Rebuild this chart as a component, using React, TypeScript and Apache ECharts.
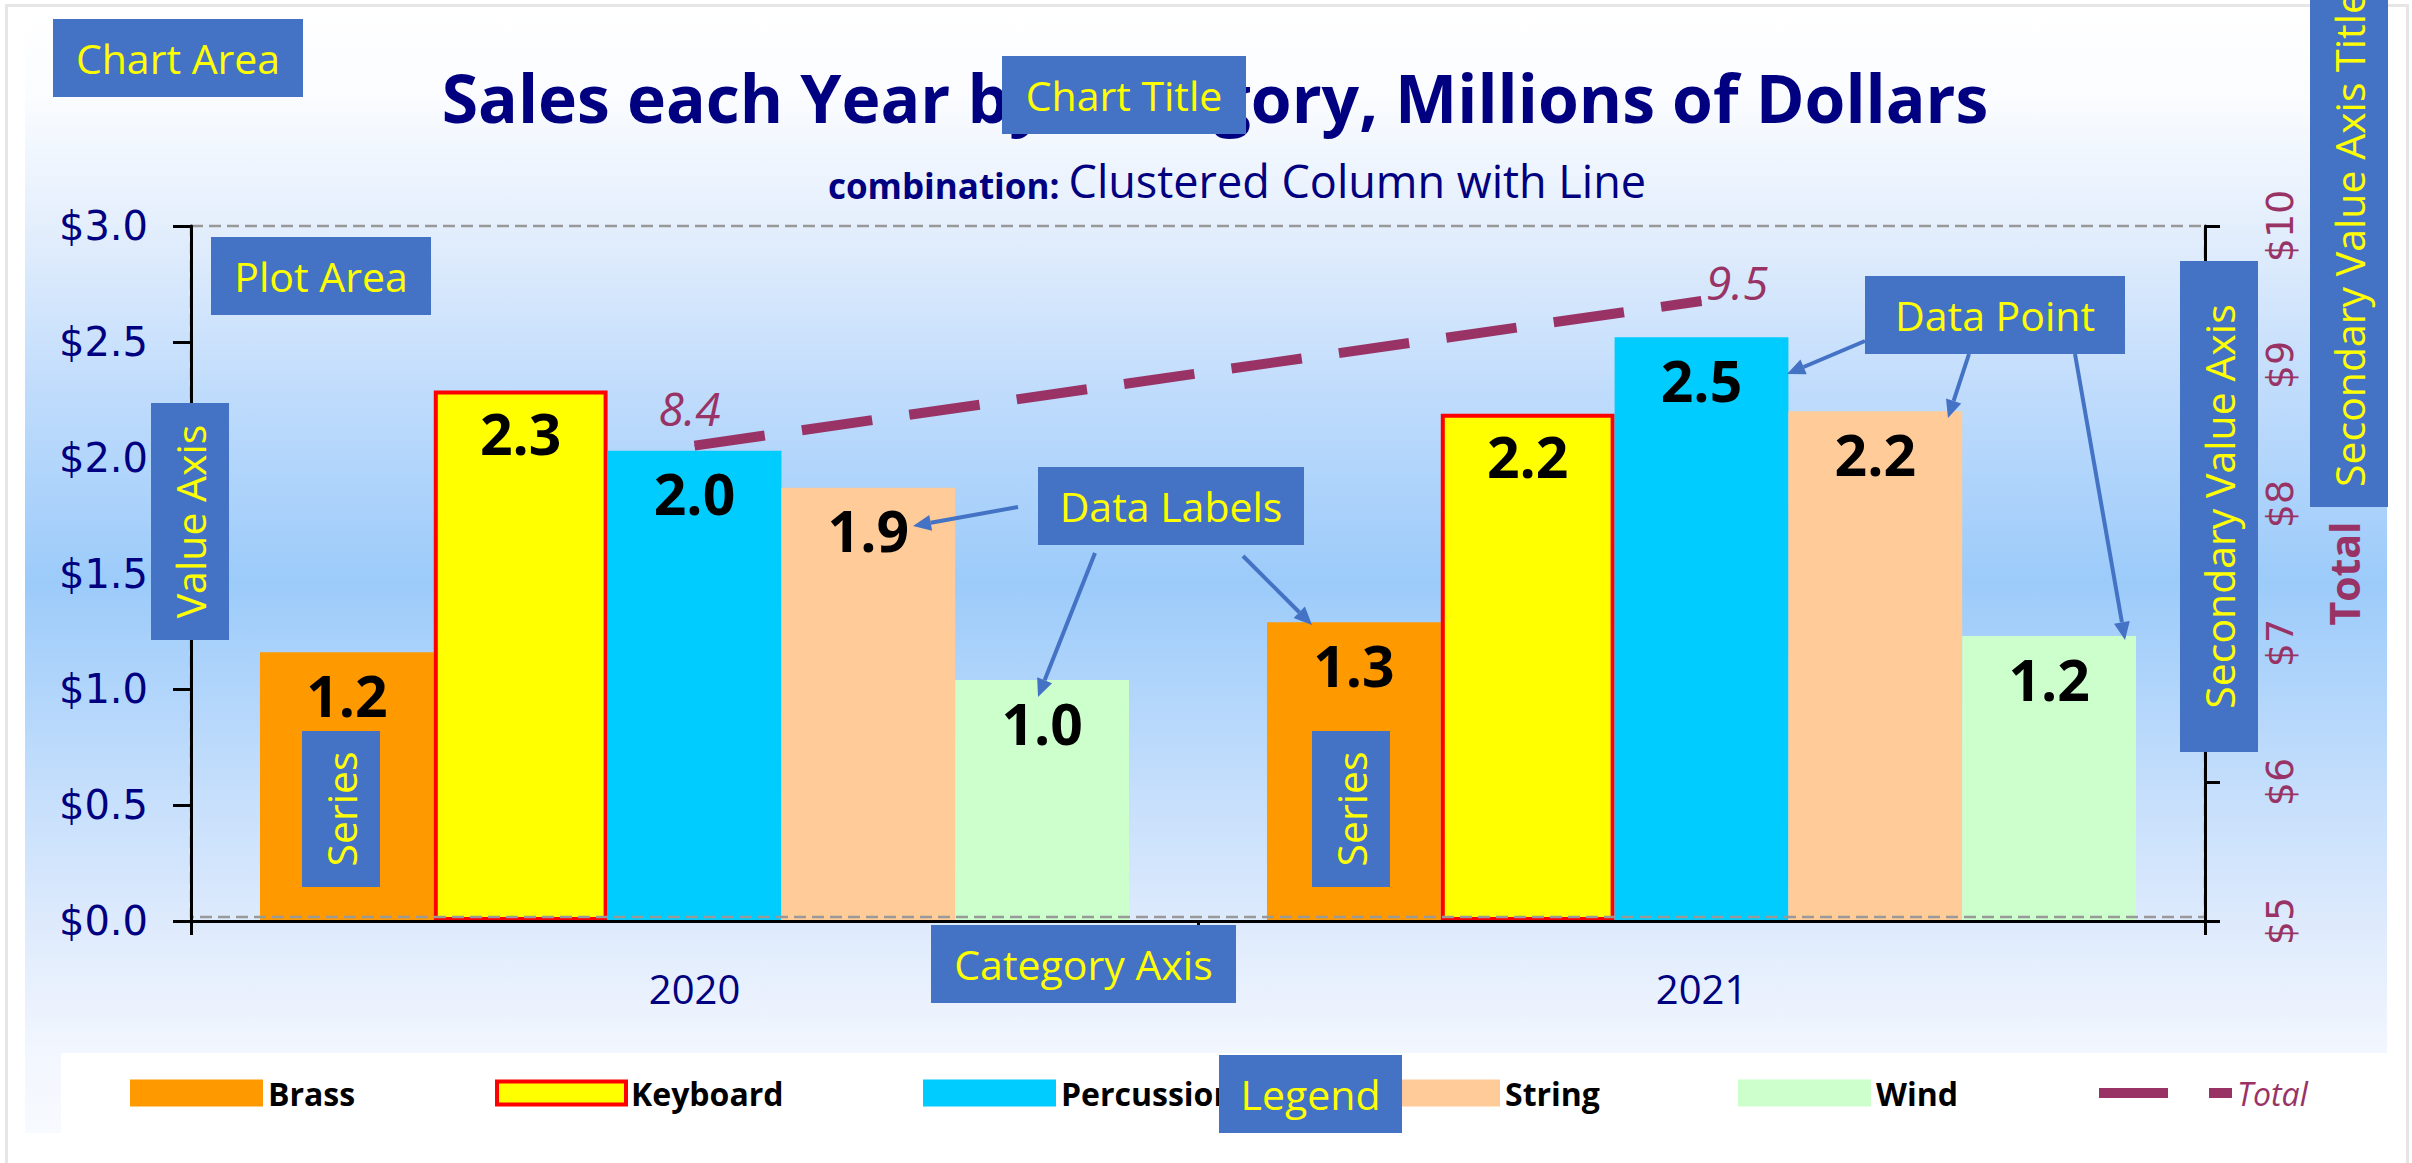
import React, { useEffect, useRef } from 'react';
import * as echarts from 'echarts';

// ---------- data ----------
const categories = ['2020', '2021'];
const seriesNames = ['Brass', 'Keyboard', 'Percussion', 'String', 'Wind'];
const brass = [1.16, 1.29];
const keyboard = [2.29, 2.19];
const percussion = [2.03, 2.52];
const strings = [1.87, 2.2];
const wind = [1.04, 1.23];
const totalName = 'Total';
const totals = [8.42, 9.46];
const leftAxisRange = { min: 0, max: 3, interval: 0.5 };
const rightAxisRange = { min: 5, max: 10, interval: 1 };
const titleText = 'Sales each Year by Category, Millions of Dollars';
const subtitleBold = 'combination:';
const subtitleRegular = 'Clustered Column with Line';

// ---------- styles / layout ----------
const W = 2412;
const H = 1163;
const GRID = { left: 191, top: 226, width: 2014, height: 695 };
const barColors = ['#FF9900', '#FFFF00', '#00CCFF', '#FFCC99', '#CCFFCC'];
const totalColor = '#993366';
const navy = '#000080';
const boxBlue = '#4472C4';
const legendX = [130, 495, 923, 1367, 1738, 2099];
const legendTop = 1077;

const annotations = [
  { text: 'Chart Area', x: 53, y: 19, w: 250, h: 78 },
  { text: 'Chart Title', x: 1002, y: 56, w: 244, h: 78 },
  { text: 'Plot Area', x: 211, y: 237, w: 220, h: 78 },
  { text: 'Value Axis', x: 151, y: 403, w: 78, h: 237, vertical: true },
  { text: 'Series', x: 302, y: 731, w: 78, h: 156, vertical: true },
  { text: 'Series', x: 1312, y: 731, w: 78, h: 156, vertical: true },
  { text: 'Category Axis', x: 931, y: 925, w: 305, h: 78 },
  { text: 'Data Labels', x: 1038, y: 467, w: 266, h: 78 },
  { text: 'Data Point', x: 1865, y: 276, w: 260, h: 78 },
  { text: 'Secondary Value Axis', x: 2180, y: 261, w: 78, h: 491, vertical: true },
  { text: 'Secondary Value Axis Title', x: 2310, y: -20, w: 78, h: 527, vertical: true, tx: 39, ty: 507, align: 'left' },
  { text: 'Legend', x: 1219, y: 1055, w: 183, h: 78 },
];

const arrows = [
  [1018, 507, 913, 526],
  [1095, 553, 1038, 697],
  [1243, 556, 1312, 625],
  [1865, 341, 1787, 374],
  [1969, 354, 1948, 418],
  [2075, 354, 2125, 640],
];

const totalLabelLayout = [
  { position: 'top', distance: 14, offset: [-5, 0] },
  { position: 'right', distance: 4, offset: [0, -19] },
];

function buildOption() {
  const barData = [brass, keyboard, percussion, strings, wind];

  const bgGradient = new echarts.graphic.LinearGradient(0, 0, 0, 1, [
    { offset: 0, color: '#FFFFFF' },
    { offset: 0.08, color: '#FAFCFF' },
    { offset: 0.197, color: '#E3EEFC' },
    { offset: 0.34, color: '#C0DCFC' },
    { offset: 0.51, color: '#9CCBFA' },
    { offset: 0.73, color: '#CCE2FC' },
    { offset: 0.81, color: '#DDEAFC' },
    { offset: 0.926, color: '#F2F6FE' },
    { offset: 1, color: '#F7FAFE' },
  ]);

  const background: any[] = [
    { type: 'rect', silent: true, z: -30, shape: { x: 6.5, y: 5.5, width: 2401, height: 1175 }, style: { fill: '#FFFFFF', stroke: '#E6E6E6', lineWidth: 3 } },
    { type: 'rect', silent: true, z: -20, shape: { x: 25, y: 8, width: 2362, height: 1125 }, style: { fill: bgGradient } },
    { type: 'rect', silent: true, z: -10, shape: { x: 61, y: 1053, width: 2340, height: 120 }, style: { fill: '#FFFFFF' } },
    { type: 'rect', silent: true, z: 3, shape: { x: GRID.left, y: GRID.top, width: GRID.width, height: GRID.height - 4 }, style: { fill: 'none', stroke: '#999999', lineWidth: 2.5, lineDash: [12, 6] } },
  ];

  const annoEls: any[] = [];
  annotations.forEach((a: any) => {
    annoEls.push({ type: 'rect', silent: true, z: 100, shape: { x: a.x, y: a.y, width: a.w, height: a.h }, style: { fill: boxBlue } });
    annoEls.push({
      type: 'text', silent: true, z: 101,
      x: a.x + (a.tx ?? a.w / 2), y: a.y + (a.ty ?? a.h / 2),
      rotation: a.vertical ? Math.PI / 2 : 0,
      style: { text: a.text, fill: '#FFFF00', fontSize: 41, fontFamily: 'Open Sans', align: a.align ?? 'center', verticalAlign: 'middle' },
    });
  });

  const arrowEls: any[] = [];
  arrows.forEach(([x1, y1, x2, y2]) => {
    const dx = x2 - x1, dy = y2 - y1;
    const L = Math.hypot(dx, dy);
    const ux = dx / L, uy = dy / L;
    const hl = 18, hw = 8;
    const bx = x2 - ux * hl, by = y2 - uy * hl;
    arrowEls.push({ type: 'line', silent: true, z: 100, shape: { x1, y1, x2: bx, y2: by }, style: { stroke: boxBlue, lineWidth: 4 } });
    arrowEls.push({ type: 'polygon', silent: true, z: 100, shape: { points: [[x2, y2], [bx - uy * hw, by + ux * hw], [bx + uy * hw, by - ux * hw]] }, style: { fill: boxBlue } });
  });

  const legendTextBase = { fontFamily: 'Open Sans', fontWeight: 'bold', fontSize: 32, color: '#000000' };
  const legends = [...seriesNames, totalName].map((name, i) => {
    const isTotal = name === totalName;
    const isKeyboard = i === 1;
    return {
      data: [isTotal ? { name, icon: 'path://M0 0H69V10H0ZM110 0H133V10H110Z' } : { name, icon: 'rect' }],
      left: legendX[i], top: legendTop, padding: 0, itemGap: 0,
      itemWidth: isKeyboard ? 129 : 133,
      itemHeight: isTotal ? 10 : isKeyboard ? 23 : 27,
      itemStyle: isKeyboard ? { borderColor: '#FF0000', borderWidth: 4 } : { borderWidth: 0 },
      textStyle: isTotal ? { ...legendTextBase, fontWeight: 'normal', fontStyle: 'italic', color: totalColor } : legendTextBase,
      selectedMode: false,
    };
  });

  const barSeries = barData.map((d, i) => ({
    name: seriesNames[i],
    type: 'bar',
    data: d,
    barGap: '0%',
    barCategoryGap: '13.7%',
    itemStyle: i === 1 ? { color: barColors[i], borderColor: '#FF0000', borderWidth: 4 } : { color: barColors[i] },
    label: {
      show: true, position: 'insideTop', distance: 14,
      formatter: (p: any) => Number(p.value).toFixed(1),
      fontFamily: 'Open Sans', fontWeight: 'bold', fontSize: 57, color: '#000000', textBorderWidth: 0,
    },
  }));

  const lineSeries = {
    name: totalName,
    type: 'line',
    yAxisIndex: 1,
    data: totals.map((v, i) => ({ value: v, label: totalLabelLayout[i] })),
    symbol: 'circle',
    symbolSize: 1,
    showSymbol: true,
    z: 3,
    itemStyle: { color: totalColor },
    lineStyle: { color: totalColor, width: 10, type: [71, 37.5], cap: 'butt' },
    label: {
      show: true,
      formatter: (p: any) => Number(p.value).toFixed(1),
      fontFamily: 'Open Sans', fontStyle: 'italic', fontSize: 46, color: totalColor,
    },
  };

  return {
    animation: false,
    backgroundColor: '#FFFFFF',
    title: [
      {
        text: titleText, left: 1215, top: 64, textAlign: 'center', padding: 0,
        textStyle: { fontFamily: 'Open Sans', fontWeight: 'bold', fontSize: 66, color: navy },
      },
      {
        text: `{b|${subtitleBold}} {r|${subtitleRegular}}`, left: 1237, top: 158, textAlign: 'center', padding: 0,
        textStyle: {
          fontFamily: 'Open Sans', fontSize: 35, color: navy,
          rich: {
            b: { fontFamily: 'Open Sans', fontWeight: 'bold', fontSize: 35, color: navy, verticalAlign: 'bottom' },
            r: { fontFamily: 'Open Sans', fontWeight: 'normal', fontSize: 45, color: navy, verticalAlign: 'bottom' },
          },
        },
      },
    ],
    legend: legends,
    grid: { left: GRID.left, top: GRID.top, width: GRID.width, height: GRID.height, containLabel: false },
    xAxis: {
      type: 'category',
      data: categories,
      z: 4,
      axisLine: { show: true, lineStyle: { color: '#000000', width: 3 } },
      axisTick: { show: true, length: 14, lineStyle: { color: '#000000', width: 3 } },
      axisLabel: { margin: 47, fontFamily: 'Open Sans', fontSize: 40, color: navy },
      splitLine: { show: false },
    },
    yAxis: [
      {
        type: 'value', position: 'left', z: 4,
        min: leftAxisRange.min, max: leftAxisRange.max, interval: leftAxisRange.interval,
        axisLine: { show: true, lineStyle: { color: '#000000', width: 3 } },
        axisTick: { show: true, length: 18, lineStyle: { color: '#000000', width: 3 } },
        axisLabel: { margin: 43, fontFamily: 'DejaVu Sans', fontSize: 40, color: navy, formatter: (v: number) => '$' + v.toFixed(1) },
        splitLine: { show: false },
      },
      {
        type: 'value', position: 'right', z: 4,
        min: rightAxisRange.min, max: rightAxisRange.max, interval: rightAxisRange.interval,
        name: totalName, nameLocation: 'middle', nameRotate: 90, nameGap: 118,
        nameTextStyle: { fontFamily: 'Open Sans', fontWeight: 'bold', fontSize: 41, color: totalColor },
        axisLine: { show: true, lineStyle: { color: '#000000', width: 3 } },
        axisTick: { show: true, length: 15, lineStyle: { color: '#000000', width: 3 } },
        axisLabel: { margin: 56, rotate: 90, fontFamily: 'DejaVu Sans', fontSize: 38, color: totalColor, formatter: (v: number) => '$' + v },
        splitLine: { show: false },
      },
    ],
    graphic: { elements: [...background, ...arrowEls, ...annoEls] },
    series: [...barSeries, lineSeries],
  };
}

export default function App() {
  const ref = useRef<HTMLDivElement>(null);
  useEffect(() => {
    if (!ref.current) return;
    const chart = echarts.init(ref.current, null, { renderer: 'svg' });
    chart.setOption(buildOption() as any);
    return () => chart.dispose();
  }, []);
  return <div ref={ref} style={{ position: 'fixed', left: 0, top: 0, width: W, height: H }} />;
}
